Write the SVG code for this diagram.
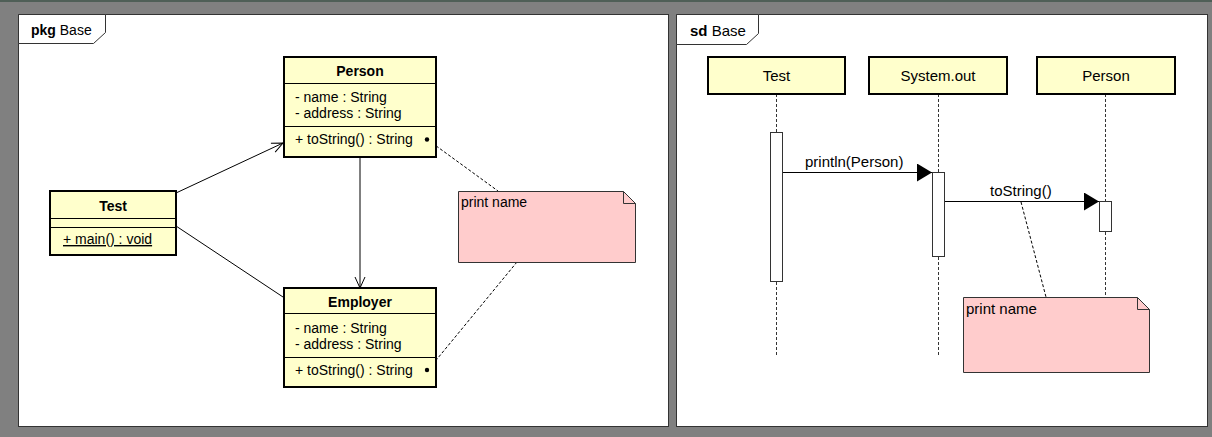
<svg xmlns="http://www.w3.org/2000/svg" width="1212" height="437" viewBox="0 0 1212 437">
  <style>
    text { font-family: "Liberation Sans", Arial, sans-serif; fill: #000; }
    .frame { fill: #fff; stroke: #333; stroke-width: 1; }
    .tab { fill: #fff; stroke: #333; stroke-width: 1; }
    .cls { fill: #ffffcc; stroke: #000; stroke-width: 2; }
    .div { stroke: #000; stroke-width: 1; }
    .note { fill: #ffcccc; stroke: #333; stroke-width: 1; }
    .fold { fill: none; stroke: #333; stroke-width: 1; }
    .t14 { font-size: 14px; }
    .t15 { font-size: 15px; }
    .b { font-weight: bold; }
    .assoc { stroke: #000; stroke-width: 1; fill: none; }
    .anchor { stroke: #000; stroke-width: 1; stroke-dasharray: 3 2; fill: none; }
    .life { stroke: #333; stroke-width: 1; stroke-dasharray: 3 2; fill: none; }
    .act { fill: #fff; stroke: #333; stroke-width: 1; }
    .msg { stroke: #000; stroke-width: 1; fill: none; }
  </style>
  <defs>
    <marker id="open" markerUnits="userSpaceOnUse" markerWidth="14" markerHeight="12" refX="12" refY="6" orient="auto">
      <path d="M1,1 L12,6 L1,11" fill="none" stroke="#000" stroke-width="1"/>
    </marker>
    <marker id="filled" markerUnits="userSpaceOnUse" markerWidth="16" markerHeight="18" refX="15" refY="9" orient="auto">
      <path d="M0,0 L15,9 L0,18 Z" fill="#000"/>
    </marker>
  </defs>

  <!-- background -->
  <rect x="0" y="0" width="1212" height="437" fill="#808080"/>
  <line x1="0" y1="1" x2="1212" y2="1" stroke="#4f5f57" stroke-width="2"/>

  <!-- package diagram frame -->
  <g id="pkg-frame">
    <rect class="frame" x="18.5" y="14.5" width="650" height="412"/>
    <path class="tab" d="M18.5,14.5 H105.5 V32.5 L93.5,43.5 H18.5 Z"/>
    <text class="t14" x="31" y="35"><tspan class="b">pkg</tspan> Base</text>
  </g>

  <!-- sequence diagram frame -->
  <g id="sd-frame">
    <rect class="frame" x="676.5" y="14.5" width="531" height="412"/>
    <path class="tab" d="M676.5,14.5 H758.5 V33.5 L746.5,44.5 H676.5 Z"/>
    <text class="t15" x="690" y="36"><tspan class="b">sd</tspan> Base</text>
  </g>

  <!-- class diagram connectors -->
  <g id="class-connectors">
    <line class="assoc" x1="176" y1="193" x2="283" y2="143" marker-end="url(#open)"/>
    <line class="assoc" x1="176" y1="226" x2="283" y2="297"/>
    <line class="assoc" x1="360" y1="157" x2="360" y2="288" marker-end="url(#open)"/>
    <line class="anchor" x1="428" y1="140" x2="498" y2="191"/>
    <line class="anchor" x1="517" y1="262" x2="428" y2="370"/>
  </g>

  <!-- classes -->
  <g id="Person">
    <rect class="cls" x="284" y="57" width="152" height="100"/>
    <line class="div" x1="284" y1="83.5" x2="436" y2="83.5"/>
    <line class="div" x1="284" y1="126.5" x2="436" y2="126.5"/>
    <text class="t14 b" x="360" y="76" text-anchor="middle">Person</text>
    <text class="t14" x="295" y="102">- name : String</text>
    <text class="t14" x="295" y="118">- address : String</text>
    <text class="t14" x="295" y="144">+ toString() : String</text>
    <circle cx="427" cy="139.5" r="2.2" fill="#000"/>
  </g>

  <g id="Test">
    <rect class="cls" x="50" y="191" width="126" height="64"/>
    <line class="div" x1="50" y1="218.5" x2="176" y2="218.5"/>
    <line class="div" x1="50" y1="227.5" x2="176" y2="227.5"/>
    <text class="t14 b" x="113" y="211" text-anchor="middle">Test</text>
    <text class="t14" x="63" y="244" text-decoration="underline">+ main() : void</text>
  </g>

  <g id="Employer">
    <rect class="cls" x="284" y="288" width="152" height="99"/>
    <line class="div" x1="284" y1="313.5" x2="436" y2="313.5"/>
    <line class="div" x1="284" y1="357.5" x2="436" y2="357.5"/>
    <text class="t14 b" x="360" y="307" text-anchor="middle">Employer</text>
    <text class="t14" x="295" y="333">- name : String</text>
    <text class="t14" x="295" y="349">- address : String</text>
    <text class="t14" x="295" y="375">+ toString() : String</text>
    <circle cx="427" cy="370" r="2.2" fill="#000"/>
  </g>

  <g id="note-class">
    <path class="note" d="M458.5,191.5 H623.5 L635.5,203.5 V262.5 H458.5 Z"/>
    <path class="fold" d="M623.5,191.5 V203.5 H635.5"/>
    <text class="t14" x="461" y="207">print name</text>
  </g>

  <!-- sequence lifelines and messages -->
  <g id="seq-connectors">
    <line class="life" x1="776.5" y1="94" x2="776.5" y2="132"/>
    <line class="life" x1="776.5" y1="282" x2="776.5" y2="355"/>
    <line class="life" x1="938.5" y1="94" x2="938.5" y2="172"/>
    <line class="life" x1="938.5" y1="257" x2="938.5" y2="355"/>
    <line class="life" x1="1105.5" y1="94" x2="1105.5" y2="201"/>
    <line class="life" x1="1105.5" y1="232" x2="1105.5" y2="297"/>
    <line class="msg" x1="783" y1="172.5" x2="932" y2="172.5" marker-end="url(#filled)"/>
    <text class="t15" x="805" y="167">println(Person)</text>
    <line class="msg" x1="944" y1="201.5" x2="1099" y2="201.5" marker-end="url(#filled)"/>
    <text class="t15" x="990" y="196">toString()</text>
    <line class="anchor" x1="1021" y1="202" x2="1046" y2="297"/>
  </g>

  <g id="lifeline-Test">
    <rect class="cls" x="708" y="57" width="137" height="37"/>
    <text class="t15" x="776.5" y="81" text-anchor="middle">Test</text>
    <rect class="act" x="770.5" y="132.5" width="12" height="149"/>
  </g>

  <g id="lifeline-SystemOut">
    <rect class="cls" x="869" y="57" width="138" height="37"/>
    <text class="t15" x="938" y="81" text-anchor="middle">System.out</text>
    <rect class="act" x="932.5" y="172.5" width="12" height="84"/>
  </g>

  <g id="lifeline-Person">
    <rect class="cls" x="1037" y="57" width="138" height="37"/>
    <text class="t15" x="1106" y="81" text-anchor="middle">Person</text>
    <rect class="act" x="1099.5" y="201.5" width="12" height="30"/>
  </g>

  <g id="note-seq">
    <path class="note" d="M963.5,297.5 H1137.5 L1149.5,309.5 V372.5 H963.5 Z"/>
    <path class="fold" d="M1137.5,297.5 V309.5 H1149.5"/>
    <text class="t15" x="966" y="314">print name</text>
  </g>
</svg>
